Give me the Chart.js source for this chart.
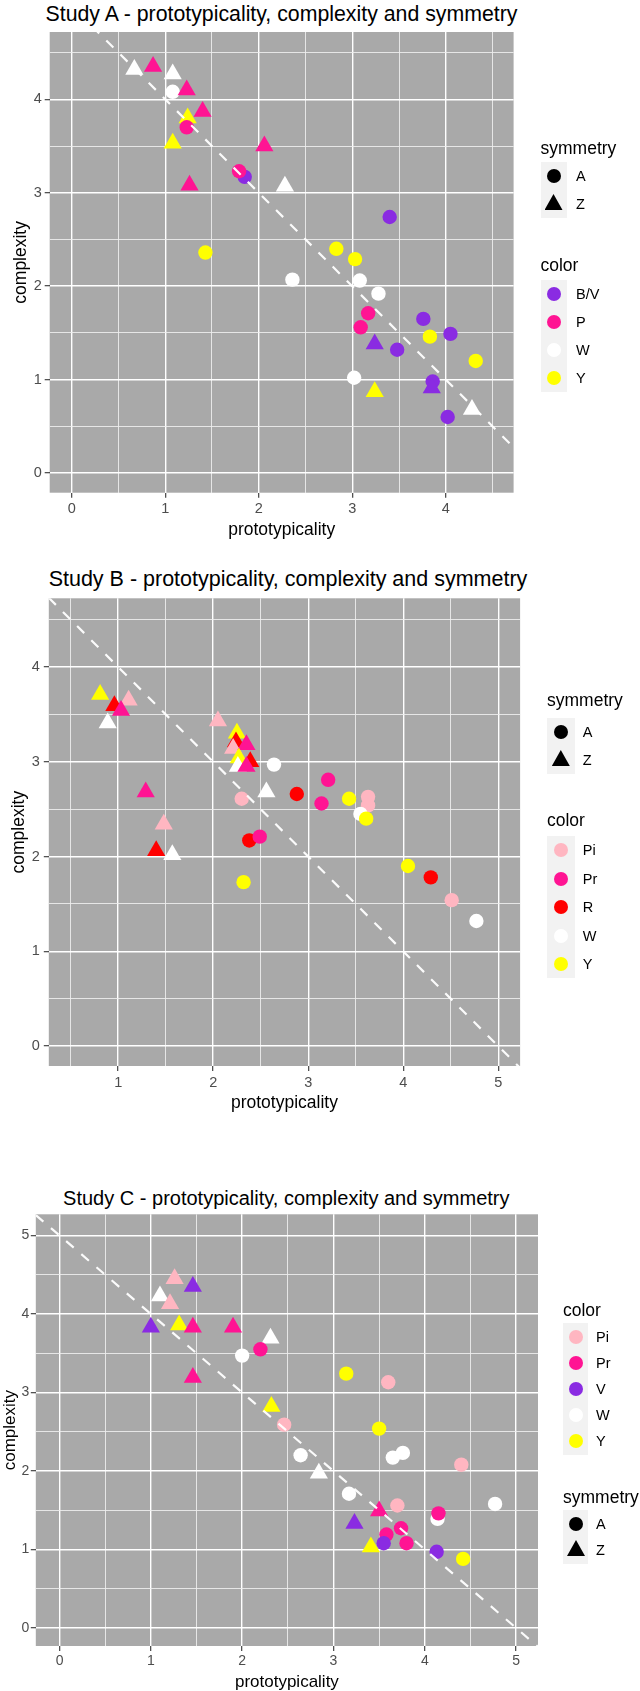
<!DOCTYPE html>
<html><head><meta charset="utf-8">
<script src="https://cdn.jsdelivr.net/npm/chart.js@4.4.1/dist/chart.umd.min.js"></script>
<style>
html,body{margin:0;padding:0;background:#fff;}
body{width:640px;height:1691px;position:relative;overflow:hidden;font-family:"Liberation Sans",Arial,sans-serif;}
canvas{position:absolute;left:0;}
.t{position:absolute;color:#000;white-space:nowrap;text-align:center;width:600px;line-height:24px;}
.lt{position:absolute;font-size:17.5px;line-height:20px;color:#000;white-space:nowrap;}
.lb{position:absolute;font-size:14.5px;line-height:16px;color:#000;white-space:nowrap;}
.box{position:absolute;background:#F2F2F2;}
.kc{position:absolute;width:14px;height:14px;border-radius:50%;}
.kt{position:absolute;width:18px;height:16px;clip-path:polygon(50% 0,100% 100%,0 100%);}
</style></head><body>
<div class="t" id="tA" style="left:-18.5px;top:1.5px;font-size:21.3px;">Study A - prototypicality, complexity and symmetry</div>
<div class="t" id="tB" style="left:-12px;top:567px;font-size:21.5px;">Study B - prototypicality, complexity and symmetry</div>
<div class="t" id="tC" style="left:-13.7px;top:1186px;font-size:20px;">Study C - prototypicality, complexity and symmetry</div>
<canvas id="cA" width="640" height="545" style="top:0px"></canvas>
<canvas id="cB" width="640" height="560" style="top:560px"></canvas>
<canvas id="cC" width="640" height="511" style="top:1180px"></canvas>
<script>
// ---------- DATA ----------
// Study A
const studyA_prototypicality = [0.67,0.87,1.08,1.08,1.23,1.40,1.24,1.23,1.08,2.06,1.26,1.85,1.79,2.28,3.40,1.43,2.83,3.03,2.36,3.08,3.28,3.17,3.09,3.76,4.05,3.83,3.24,3.48,4.32,3.02,3.86,3.85,3.24,4.28,4.02];
const studyA_complexity     = [4.32,4.35,4.27,4.08,4.10,3.87,3.80,3.70,3.53,3.50,3.08,3.17,3.23,3.07,2.74,2.36,2.40,2.29,2.07,2.06,1.92,1.71,1.56,1.65,1.49,1.46,1.38,1.32,1.20,1.02,0.98,0.91,0.87,0.68,0.60];
const studyA_color    = ['W','P','W','W','P','P','Y','P','Y','P','P','B/V','P','W','B/V','Y','Y','Y','W','W','W','P','P','B/V','B/V','Y','B/V','B/V','Y','W','B/V','B/V','Y','W','B/V'];
const studyA_symmetry = ['Z','Z','Z','A','Z','Z','Z','A','Z','Z','Z','A','A','Z','A','A','A','A','A','A','A','A','A','A','A','A','Z','A','A','A','A','Z','Z','Z','A'];
const studyA_colorLevels = ['B/V','P','W','Y'];
const studyA_xTicks = [0,1,2,3,4];
const studyA_xTickLabels = ['0','1','2','3','4'];
const studyA_xMinor = [0.5,1.5,2.5,3.5,4.5];
const studyA_yTicks = [0,1,2,3,4];
const studyA_yTickLabels = ['0','1','2','3','4'];
const studyA_yMinor = [0.5,1.5,2.5,3.5,4.5];

// Study B
const studyB_prototypicality = [0.81,0.96,1.11,1.03,0.89,2.05,2.25,2.24,2.21,2.35,2.27,2.39,2.26,2.35,2.64,2.56,2.30,1.29,1.48,2.88,3.21,3.14,3.43,3.63,3.63,3.55,3.61,2.38,2.49,1.40,1.57,2.32,4.05,4.29,4.51,4.77];
const studyB_complexity     = [3.71,3.59,3.65,3.54,3.41,3.43,3.30,3.21,3.14,3.18,3.04,3.00,2.95,2.95,2.97,2.68,2.61,2.68,2.34,2.66,2.81,2.56,2.61,2.63,2.54,2.45,2.40,2.17,2.21,2.06,2.02,1.73,1.90,1.78,1.54,1.32];
const studyB_color    = ['Y','R','Pi','Pr','W','Pi','Y','R','Pi','Pr','Y','R','W','Pr','W','W','Pi','Pr','Pi','R','Pr','Pr','Y','Pi','Pi','W','Y','R','Pr','R','W','Y','Y','R','Pi','W'];
const studyB_symmetry = ['Z','Z','Z','Z','Z','Z','Z','Z','Z','Z','Z','Z','Z','Z','A','Z','A','Z','Z','A','A','A','A','A','A','A','A','A','A','Z','Z','A','A','A','A','A'];
const studyB_colorLevels = ['Pi','Pr','R','W','Y'];
const studyB_xTicks = [1,2,3,4,5];
const studyB_xTickLabels = ['1','2','3','4','5'];
const studyB_xMinor = [0.5,1.5,2.5,3.5,4.5];
const studyB_yTicks = [0,1,2,3,4];
const studyB_yTickLabels = ['0','1','2','3','4'];
const studyB_yMinor = [0.5,1.5,2.5,3.5,4.5];

// Study C
const studyC_prototypicality = [1.26,1.46,1.10,1.21,1.00,1.31,1.46,1.90,2.31,2.20,2.00,1.46,3.14,3.60,2.32,2.46,3.50,2.64,2.84,3.65,3.76,4.40,3.17,4.77,3.70,3.50,3.23,4.14,4.15,3.74,3.58,3.80,3.55,3.41,4.13,4.42];
const studyC_complexity     = [4.45,4.35,4.23,4.13,3.83,3.86,3.83,3.83,3.69,3.55,3.47,3.19,3.24,3.13,2.82,2.59,2.54,2.20,1.97,2.17,2.23,2.08,1.71,1.58,1.56,1.49,1.33,1.39,1.46,1.27,1.19,1.08,1.08,1.03,0.97,0.88];
const studyC_color    = ['Pi','V','W','Pi','V','Y','Pr','Pr','W','Pr','W','Pr','Y','Pi','Y','Pi','Y','W','W','W','W','Pi','W','W','Pi','Pr','V','W','Pr','Pr','Pr','Pr','V','Y','V','Y'];
const studyC_symmetry = ['Z','Z','Z','Z','Z','Z','Z','Z','Z','A','A','Z','A','A','Z','A','A','A','Z','A','A','A','A','A','A','Z','Z','A','A','A','A','A','A','Z','A','A'];
const studyC_colorLevels = ['Pi','Pr','V','W','Y'];
const studyC_xTicks = [0,1,2,3,4,5];
const studyC_xTickLabels = ['0','1','2','3','4','5'];
const studyC_xMinor = [0.5,1.5,2.5,3.5,4.5];
const studyC_yTicks = [0,1,2,3,4,5];
const studyC_yTickLabels = ['0','1','2','3','4','5'];
const studyC_yMinor = [0.5,1.5,2.5,3.5,4.5];

const symmetryLevels = ['A','Z'];
// reference line: complexity = 5 - prototypicality
const refIntercept = 5;
const refSlope = -1;

// ---------- STYLE ----------
const colorMap = {'B/V':'#8A2BE2','V':'#8A2BE2','P':'#FF1493','Pr':'#FF1493','Pi':'#FFB6C1','R':'#FF0000','W':'#FFFFFF','Y':'#FFFF00'};
const shapeMap = {'A':'circle','Z':'triangle'};
const radiusMap = {'A':7.2,'Z':10.5};
const FONT = '"Liberation Sans", Arial, sans-serif';
Chart.defaults.font.family = FONT;

const panelBg = {
  id:'panelBg',
  beforeDraw(chart){
    const a = chart.chartArea, ctx = chart.ctx;
    ctx.save(); ctx.fillStyle = '#A9A9A9';
    ctx.fillRect(a.left, a.top, a.right-a.left, a.bottom-a.top); ctx.restore();
  }
};

function axis(range, majors, labels, minors, fitSize, isX, tickPad, titleText, titlePad, tickFont, titleFont){
  const all = majors.concat(minors).sort((a,b)=>a-b);
  const isMaj = v => majors.indexOf(v) >= 0;
  return {
    type:'linear', min:range[0], max:range[1],
    afterBuildTicks: s => { s.ticks = all.map(v => ({value:v})); },
    afterFit: s => { if (isX) s.height = fitSize; else s.width = fitSize; },
    border:{display:false},
    grid:{
      color: c => (c.tick && isMaj(c.tick.value)) ? '#FFFFFF' : '#EDEDED',
      lineWidth: c => (c.tick && isMaj(c.tick.value)) ? 1.4 : 0.9,
      tickColor: c => (c.tick && isMaj(c.tick.value)) ? '#333333' : 'rgba(0,0,0,0)',
      tickWidth: 1.1, tickLength: 5, drawTicks:true
    },
    ticks:{
      autoSkip:false, maxRotation:0, minRotation:0, padding:tickPad,
      color:'#4D4D4D', font:{size:tickFont, lineHeight:1.2},
      callback: v => { const i = majors.indexOf(v); return i >= 0 ? labels[i] : ''; }
    },
    title:{display:true, text:titleText, color:'#000', font:{size:titleFont, lineHeight:1},
      padding: isX ? {top:0,bottom:titlePad} : {top:titlePad,bottom:0}}
  };
}

function makePanel(P){
  const pts = P.x.map((v,i)=>({x:v, y:P.y[i]}));
  const lineData = P.xRange.map(v => ({x:v, y:refIntercept + refSlope*v}));
  new Chart(document.getElementById(P.id), {
    type:'scatter',
    data:{datasets:[
      {type:'line', data:lineData, borderColor:'rgba(255,255,255,0.95)', borderWidth:2.2, borderDash:[10,10],
       pointRadius:0, fill:false, showLine:true, tension:0},
      {type:'scatter', data:pts,
       pointBackgroundColor:P.color.map(c=>colorMap[c]),
       pointBorderWidth:0, pointBorderColor:'rgba(0,0,0,0)',
       pointStyle:P.sym.map(s=>shapeMap[s]),
       pointRadius:P.sym.map(s=>radiusMap[s])}
    ]},
    options:{
      responsive:false, animation:false, devicePixelRatio:1,
      layout:{padding:P.pad},
      plugins:{legend:{display:false}, tooltip:{enabled:false}, title:{display:false}},
      scales:{
        x: axis(P.xRange, P.xT, P.xL, P.xM, P.xFit, true, P.xTickPad, 'prototypicality', P.xTitlePad, P.tickFont, P.titleFont),
        y: axis(P.yRange, P.yT, P.yL, P.yM, P.yFit, false, P.yTickPad, 'complexity', P.yTitlePad, P.tickFont, P.titleFont)
      }
    },
    plugins:[panelBg]
  });
}

makePanel({id:'cA', x:studyA_prototypicality, y:studyA_complexity, color:studyA_color, sym:studyA_symmetry,
  xRange:[-0.235,4.725], yRange:[-0.21,4.72],
  xT:studyA_xTicks, xL:studyA_xTickLabels, xM:studyA_xMinor,
  yT:studyA_yTicks, yL:studyA_yTickLabels, yM:studyA_yMinor,
  pad:{top:32,left:0,right:126.4,bottom:0}, xFit:52.3, yFit:49.7,
  xTickPad:3, yTickPad:3, xTitlePad:6.25, yTitlePad:12.6, tickFont:14.5, titleFont:17.5});

makePanel({id:'cB', x:studyB_prototypicality, y:studyB_complexity, color:studyB_color, sym:studyB_symmetry,
  xRange:[0.27,5.23], yRange:[-0.21,4.725],
  xT:studyB_xTicks, xL:studyB_xTickLabels, xM:studyB_xMinor,
  yT:studyB_yTicks, yL:studyB_yTickLabels, yM:studyB_yMinor,
  pad:{top:38.3,left:0,right:119.9,bottom:0}, xFit:54, yFit:48.8,
  xTickPad:3.3, yTickPad:4, xTitlePad:8, yTitlePad:10.3, tickFont:14.5, titleFont:17.5});

makePanel({id:'cC', x:studyC_prototypicality, y:studyC_complexity, color:studyC_color, sym:studyC_symmetry,
  xRange:[-0.26,5.24], yRange:[-0.23,5.27],
  xT:studyC_xTicks, xL:studyC_xTickLabels, xM:studyC_xMinor,
  yT:studyC_yTicks, yL:studyC_yTickLabels, yM:studyC_yMinor,
  pad:{top:34.3,left:0,right:102,bottom:0}, xFit:45, yFit:35.8,
  xTickPad:1.5, yTickPad:1.5, xTitlePad:0.5, yTitlePad:2, tickFont:14, titleFont:17});

// ---------- LEGENDS ----------
function el(cls, txt, st){
  const d = document.createElement('div'); d.className = cls; if (txt) d.textContent = txt;
  Object.assign(d.style, st); document.body.appendChild(d); return d;
}
function legend(L){
  el('lt', L.title, {left:L.x+'px', top:(L.titleY-10)+'px'});
  const n = L.items.length;
  el('box', '', {left:L.x+'px', top:(L.keyY0-14)+'px', width:L.boxW+'px', height:((n-1)*L.step+28)+'px'});
  L.items.forEach((it,i)=>{
    const cy = L.keyY0 + i*L.step;
    if (it.shape === 'triangle') el('kt','',{left:(L.keyX-9)+'px', top:(cy-10)+'px', background:it.color});
    else el('kc','',{left:(L.keyX-7)+'px', top:(cy-7)+'px', background:it.color});
    el('lb', it.label, {left:L.labelX+'px', top:(cy-8)+'px'});
  });
}
const symItems = symmetryLevels.map(s=>({label:s, color:'#000', shape:shapeMap[s]}));
const colItems = lv => lv.map(c=>({label:c, color:colorMap[c], shape:'circle'}));

legend({title:'symmetry', x:540.5, titleY:148, boxW:26.5, keyX:553.5, labelX:576, keyY0:176, step:28, items:symItems});
legend({title:'color', x:540.5, titleY:265, boxW:26.5, keyX:553.5, labelX:576, keyY0:294, step:28, items:colItems(studyA_colorLevels)});

legend({title:'symmetry', x:547, titleY:700, boxW:28, keyX:560.8, labelX:582.8, keyY0:731.7, step:28.3, items:symItems});
legend({title:'color', x:547, titleY:820, boxW:28, keyX:560.8, labelX:582.8, keyY0:850, step:28.5, items:colItems(studyB_colorLevels)});

legend({title:'color', x:563, titleY:1310, boxW:25, keyX:576, labelX:596, keyY0:1336.7, step:26, items:colItems(studyC_colorLevels)});
legend({title:'symmetry', x:563, titleY:1496.7, boxW:25, keyX:576, labelX:596, keyY0:1524.3, step:25.7, items:symItems});
</script>
</body></html>
